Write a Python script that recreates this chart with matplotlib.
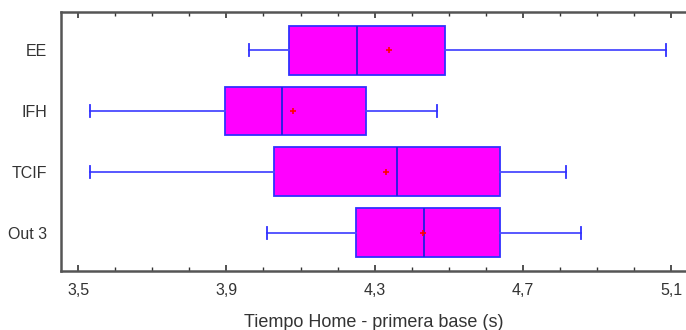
import matplotlib.pyplot as plt
from matplotlib.ticker import FixedLocator, MultipleLocator

plt.rcParams['font.family'] = ['Liberation Sans', 'DejaVu Sans']

groups = ['EE', 'IFH', 'TCIF', 'Out 3']
whis_lo = [3.962, 3.532, 3.532, 4.010]
q1 = [4.068, 3.897, 4.029, 4.249]
median = [4.252, 4.049, 4.359, 4.434]
mean = [4.338, 4.079, 4.330, 4.430]
q3 = [4.490, 4.278, 4.638, 4.638]
whis_hi = [5.087, 4.469, 4.816, 4.856]
xticks = [3.5, 3.9, 4.3, 4.7, 5.1]
xticklabels = ['3,5', '3,9', '4,3', '4,7', '5,1']

stats = []
for i in range(len(groups)):
    stats.append(dict(label=groups[i], whislo=whis_lo[i], q1=q1[i], med=median[i],
                      mean=mean[i], q3=q3[i], whishi=whis_hi[i], fliers=[]))

fig = plt.figure(figsize=(6.86, 3.30), dpi=100)
ax = fig.add_axes([0.089, 0.179, 0.911, 0.785])

pos = list(range(len(groups), 0, -1))
ax.bxp(stats, positions=pos, vert=False, widths=0.8, capwidths=0.2,
       showmeans=True, patch_artist=True,
       boxprops=dict(facecolor='#ff00ff', edgecolor='#3030ff', linewidth=1.3),
       medianprops=dict(color='#2020e0', linewidth=1.3),
       whiskerprops=dict(color='#4a4aff', linewidth=1.3),
       capprops=dict(color='#3030ff', linewidth=1.3),
       meanprops=dict(marker='+', markeredgecolor='red', markersize=5, markeredgewidth=1.2))

ax.set_xlim(3.454, 5.14)
ax.set_ylim(0.37, 4.63)
ax.xaxis.set_major_locator(FixedLocator(xticks))
ax.set_xticklabels(xticklabels, fontsize=11.5, color='#333333')
ax.xaxis.set_minor_locator(MultipleLocator(0.1))
ax.tick_params(axis='x', which='both', direction='in', top=True, color='#333333')
ax.tick_params(axis='x', which='major', length=4, width=1.2, pad=9)
ax.tick_params(axis='x', which='minor', length=3, width=1)
ax.set_yticks(pos)
ax.set_yticklabels(groups, fontsize=11.5, color='#333333')
ax.tick_params(axis='y', length=0, pad=10)
ax.set_xlabel('Tiempo Home - primera base (s)', fontsize=13, color='#333333', labelpad=11)

for s in ['left', 'top', 'bottom']:
    ax.spines[s].set_color('#555555')
    ax.spines[s].set_linewidth(1.8)
ax.spines['right'].set_visible(False)

fig.savefig('out.png', dpi=100)
